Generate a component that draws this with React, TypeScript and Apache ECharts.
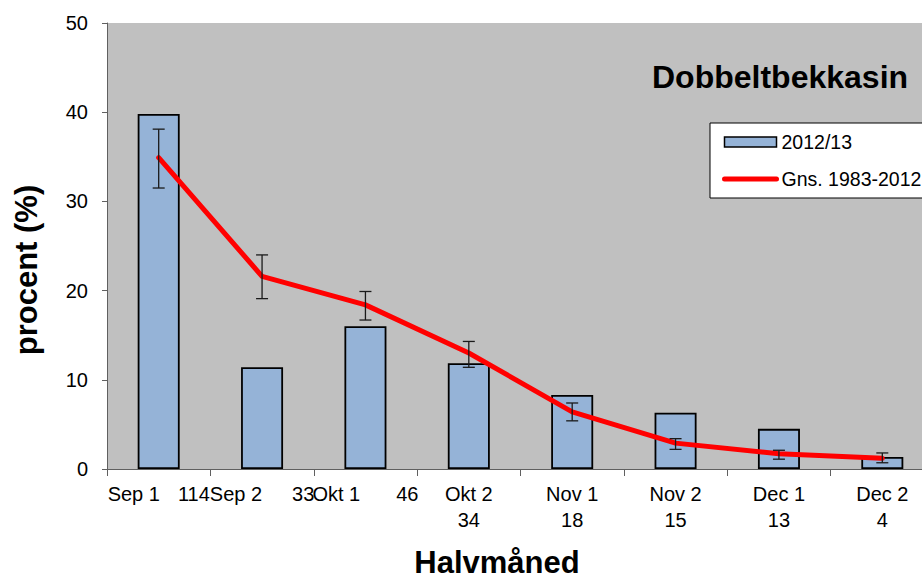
import React, { useEffect, useRef } from "react";
import * as echarts from "echarts";

const categories = ["Sep 1", "Sep 2", "Okt 1", "Okt 2", "Nov 1", "Nov 2", "Dec 1", "Dec 2"];
const counts = ["114", "33", "46", "34", "18", "15", "13", "4"];
const season = [39.8, 11.4, 16.0, 11.85, 8.3, 6.3, 4.5, 1.35];
const average = [34.9, 21.6, 18.4, 13.0, 6.4, 2.9, 1.7, 1.2];
const errLow = [31.5, 19.1, 16.7, 11.4, 5.4, 2.2, 1.1, 0.7];
const errHigh = [38.1, 24.0, 19.9, 14.3, 7.4, 3.4, 2.1, 1.8];
const seasonName = "2012/13";
const averageName = "Gns. 1983-2012";
const titleText = "Dobbeltbekkasin";
const yName = "procent (%)";
const xName = "Halvmåned";

const FONT = "'Liberation Sans', Arial, sans-serif";
const inlineGap = [18, 30, 36];
const CHART_W = 940;

export default function App() {
  const ref = useRef<HTMLDivElement>(null);
  useEffect(() => {
    if (!ref.current) return;
    const chart = echarts.init(ref.current, null, { renderer: "svg" });
    const errData = categories.map((_, i) => [i, errLow[i], errHigh[i]]);
    chart.setOption({
      animation: false,
      backgroundColor: "#ffffff",
      textStyle: { fontFamily: FONT },
      grid: {
        left: 107,
        right: CHART_W - 934,
        top: 23,
        bottom: 109,
        show: true,
        backgroundColor: "#C0C0C0",
        borderWidth: 0,
      },
      legend: {
        orient: "vertical",
        left: 710,
        top: 123,
        padding: [9, 20, 9, 12],
        backgroundColor: "#ffffff",
        borderColor: "#000000",
        borderWidth: 1,
        borderRadius: 0,
        itemWidth: 52,
        itemHeight: 10,
        itemGap: 17,
        textStyle: { fontFamily: FONT, fontSize: 19.5, color: "#000", lineHeight: 20 },
        data: [
          { name: seasonName, icon: "rect", itemStyle: { color: "#95B3D7", borderColor: "#000", borderWidth: 1.5 } },
          {
            name: averageName,
            lineStyle: { color: "#FF0000", width: 5, cap: "round" },
            itemStyle: { color: "rgba(0,0,0,0)", borderWidth: 0, opacity: 0 },
          },
        ],
      },
      xAxis: {
        type: "category",
        data: categories,
        boundaryGap: true,
        axisLine: { lineStyle: { color: "#606060", width: 1 } },
        axisTick: { show: true, length: 7, lineStyle: { color: "#606060" } },
        axisLabel: {
          interval: 0,
          margin: 12,
          color: "#000",
          fontFamily: FONT,
          fontSize: 20,
          lineHeight: 26,
          formatter: (value: string, index: number) =>
            index < 3
              ? `{t|${value}}{g${index}| }{t|${counts[index]}}`
              : `{t|${value}}\n{t|${counts[index]}}`,
          rich: {
            t: { fontFamily: FONT, fontSize: 20, lineHeight: 26, color: "#000" },
            g0: { width: inlineGap[0], fontSize: 20, lineHeight: 26 },
            g1: { width: inlineGap[1], fontSize: 20, lineHeight: 26 },
            g2: { width: inlineGap[2], fontSize: 20, lineHeight: 26 },
          },
        },
        splitLine: { show: false },
      },
      yAxis: {
        type: "value",
        min: 0,
        max: 50,
        interval: 10,
        axisLine: { show: true, lineStyle: { color: "#606060", width: 1 } },
        axisTick: { show: true, length: 5, lineStyle: { color: "#606060" } },
        axisLabel: { margin: 19, color: "#000", fontFamily: FONT, fontSize: 20 },
        splitLine: { show: false },
      },
      graphic: [
        {
          type: "text",
          x: 652,
          y: 77,
          style: {
            text: titleText,
            fill: "#000",
            font: `bold 32px ${FONT}`,
            textAlign: "left",
            textVerticalAlign: "middle",
          },
        },
        {
          type: "text",
          x: 26,
          y: 270,
          rotation: Math.PI / 2,
          style: {
            text: yName,
            fill: "#000",
            font: `bold 31px ${FONT}`,
            textAlign: "center",
            textVerticalAlign: "middle",
          },
        },
        {
          type: "text",
          x: 497,
          y: 562,
          style: {
            text: xName,
            fill: "#000",
            font: `bold 31px ${FONT}`,
            textAlign: "center",
            textVerticalAlign: "middle",
          },
        },
      ],
      series: [
        {
          name: seasonName,
          type: "bar",
          data: season,
          barWidth: 42,
          z: 2,
          itemStyle: { color: "#95B3D7", borderColor: "#000", borderWidth: 1.8 },
        },
        {
          name: averageName,
          type: "line",
          data: average,
          symbol: "none",
          z: 3,
          lineStyle: { color: "#FF0000", width: 5, cap: "round", join: "round" },
          itemStyle: { color: "#FF0000" },
        },
        {
          name: "err",
          type: "custom",
          data: errData,
          z: 4,
          encode: { x: 0, y: [1, 2] },
          renderItem: (params: any, api: any) => {
            const i = api.value(0);
            const lo = api.coord([i, api.value(1)]);
            const hi = api.coord([i, api.value(2)]);
            const w = 6;
            const st = { stroke: "#1a1a1a", lineWidth: 1.3 };
            return {
              type: "group",
              children: [
                { type: "line", shape: { x1: lo[0], y1: lo[1], x2: hi[0], y2: hi[1] }, style: st },
                { type: "line", shape: { x1: lo[0] - w, y1: lo[1], x2: lo[0] + w, y2: lo[1] }, style: st },
                { type: "line", shape: { x1: hi[0] - w, y1: hi[1], x2: hi[0] + w, y2: hi[1] }, style: st },
              ],
            };
          },
        },
      ],
    });
    return () => chart.dispose();
  }, []);
  return (
    <div style={{ position: "absolute", left: 0, top: 0, width: 922, height: 578, overflow: "hidden" }}>
      <div ref={ref} style={{ width: CHART_W, height: 578 }} />
    </div>
  );
}
